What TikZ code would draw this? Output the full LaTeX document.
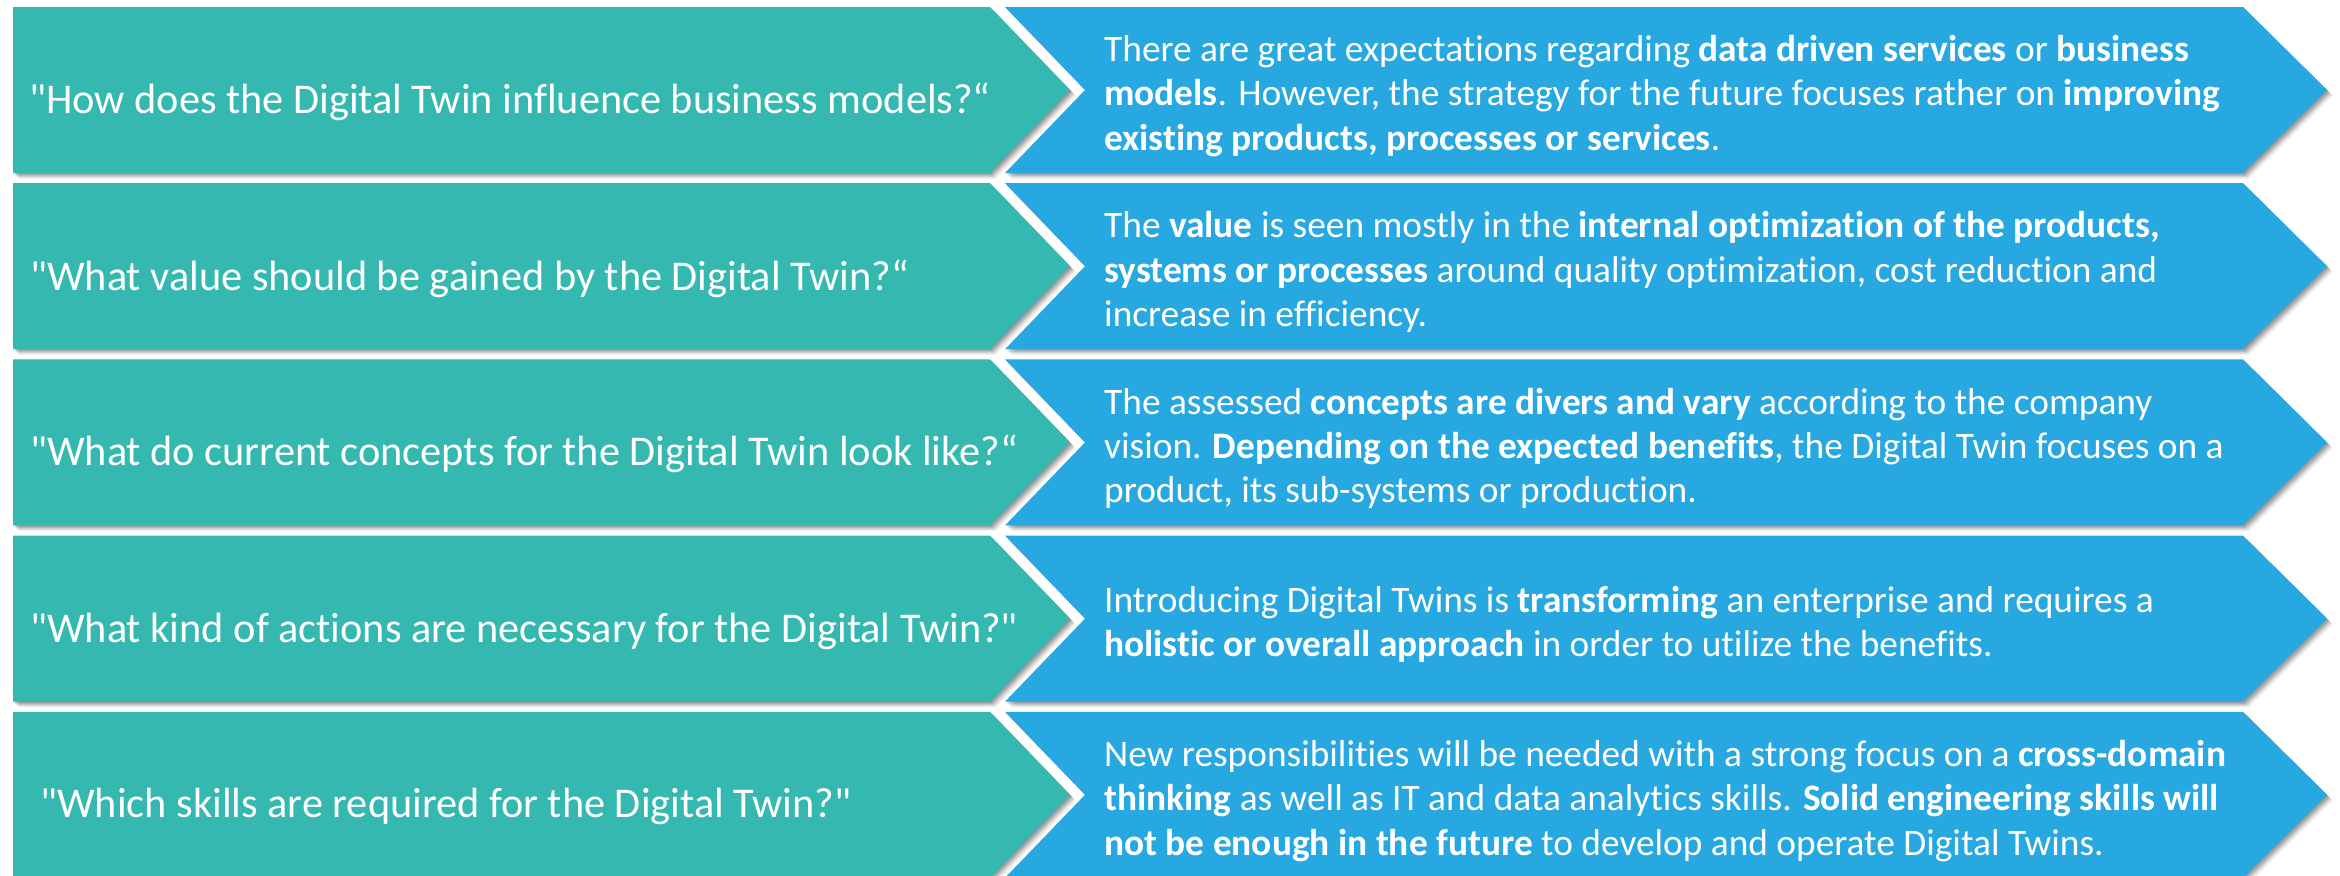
\documentclass[tikz,border=0pt]{standalone}
\usepackage{fontspec}
\setmainfont{Carlito}[Ligatures={TeXOff,CommonOff}]
\definecolor{tealq}{HTML}{34B8AF}
\definecolor{bluea}{HTML}{27A8E0}
\tikzset{
  qtext/.style={text=white, inner sep=0pt, font=\fontsize{42.5}{50}\selectfont, anchor=base west},
  atext/.style={text=white, inner sep=0pt, font=\fontsize{37.5}{44.5}\selectfont, align=left, anchor=west},
}
\newcommand{\tealshape}[1]{(13,#1-83) -- (990,#1-83) -- (1070,#1) -- (990,#1+83) -- (13,#1+83) -- cycle}
\newcommand{\blueshape}[1]{(1005,#1-83) -- (2243,#1-83) -- (2327,#1) -- (2243,#1+83) -- (1005,#1+83) -- (1085,#1) -- cycle}
\begin{document}
\begin{tikzpicture}[x=1bp,y=-1bp]
\useasboundingbox (0,0) rectangle (2340,875);
\fill[white] (0,0) rectangle (2340,875);
% shadows
\foreach \i in {0,...,4}{
  \pgfmathsetmacro\c{90+176.2*\i}
  \foreach \o/\a in {1/0.10,2/0.10,3/0.10,4/0.08,5/0.06,6/0.04}{
    \fill[black,opacity=\a,shift={(\o,\o)}] \tealshape{\c};
    \fill[black,opacity=\a,shift={(\o,\o)}] \blueshape{\c};
  }
}
% shapes
\foreach \i in {0,...,4}{
  \pgfmathsetmacro\c{90+176.2*\i}
  \fill[tealq] \tealshape{\c};
  \fill[bluea] \blueshape{\c};
}
% questions
\node[qtext] (q1) at (29,113) {"How does the Digital Twin influence business models?“};
\node[qtext] (q2) at (30,290) {"What value should be gained by the Digital Twin?“};
\node[qtext] (q3) at (30,465) {"What do current concepts for the Digital Twin look like?“};
\node[qtext] (q4) at (30,642) {"What kind of actions are necessary for the Digital Twin?"};
\node[qtext] (q5) at (40,817) {"Which skills are required for the Digital Twin?"};
% answers
\node[atext] (a1) at (1104,96) {There are great expectations regarding \textbf{data driven services} or \textbf{business}\\\textbf{models}. However, the strategy for the future focuses rather on \textbf{improving}\\\textbf{existing products, processes or services}.};
\node[atext] (a2) at (1104,272.2) {The \textbf{value} is seen mostly in the \textbf{internal optimization of the products,}\\\textbf{systems or processes} around quality optimization, cost reduction and\\increase in efficiency.};
\node[atext] (a3) at (1104,448.4) {The assessed \textbf{concepts are divers and vary} according to the company\\vision. \textbf{Depending on the expected benefits}, the Digital Twin focuses on a\\product, its sub-systems or production.};
\node[atext] (a4) at (1104,624.6) {Introducing Digital Twins is \textbf{transforming} an enterprise and requires a\\\textbf{holistic or overall approach} in order to utilize the benefits.};
\node[atext] (a5) at (1104,800.8) {New responsibilities will be needed with a strong focus on a \textbf{cross-domain}\\\textbf{thinking} as well as IT and data analytics skills. \textbf{Solid engineering skills will}\\\textbf{not be enough in the future} to develop and operate Digital Twins.};
\end{tikzpicture}
\end{document}
